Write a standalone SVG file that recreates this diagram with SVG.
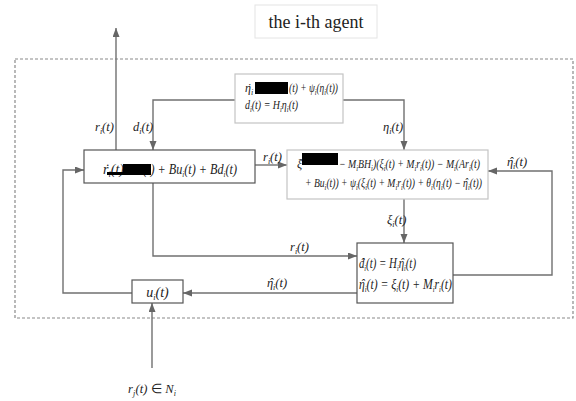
<svg xmlns="http://www.w3.org/2000/svg" width="576" height="401" viewBox="0 0 576 401">
  <style>
    .m{font-family:"Liberation Serif","Times New Roman",serif;font-style:italic;font-size:12.5px;fill:#222}
    .b{font-size:14px}
    .sm{font-size:12px}
    .s{font-size:8px;baseline-shift:-3px}
    .u{font-style:normal}
    .box{fill:#fff;stroke:#555;stroke-width:1.2}
    .lbox{fill:#fff;stroke:#c4c4c4;stroke-width:1.2}
    .ln{fill:none;stroke:#707070;stroke-width:1.4}
    .frame{fill:none;stroke:#8a8a8a;stroke-width:1.2;stroke-dasharray:3 2}
    .redact{fill:#000}
  </style>
  <defs>
    <marker id="ah" markerUnits="userSpaceOnUse" markerWidth="10" markerHeight="8" refX="9" refY="3.5" orient="auto">
      <path d="M0,0 L9,3.5 L0,7 z" fill="#666"/>
    </marker>
  </defs>
  <rect width="576" height="401" fill="#fff"/>

  <!-- title -->
  <g id="title">
    <rect x="255" y="5" width="122" height="33" fill="#fff" stroke="#e4e4e4"/>
    <text x="316" y="28" text-anchor="middle" font-family="Liberation Serif, serif" font-size="18" fill="#222">the i-th agent</text>
  </g>

  <!-- agent boundary -->
  <rect class="frame" x="15" y="59" width="558" height="259"/>

  <!-- connectors -->
  <g id="connectors" class="ln" marker-end="url(#ah)">
    <path d="M116,150 V28"/>
    <path d="M235,100 H153 V150"/>
    <path d="M343,100 H404 V150"/>
    <path d="M255,165 H287"/>
    <path d="M404,199 V243"/>
    <path d="M153,183 V256 H357"/>
    <path d="M453,275 H552 V171 H488"/>
    <path d="M357,293 H183"/>
    <path d="M132,293 H63 V170 H84"/>
    <path d="M152,368 V303"/>
  </g>

  <!-- connector labels -->
  <g id="labels" class="m">
    <text x="95" y="131">r<tspan class="s">i</tspan>(t)</text>
    <text x="133" y="131">d<tspan class="s">i</tspan>(t)</text>
    <text x="383" y="131">η<tspan class="s">i</tspan>(t)</text>
    <text x="263" y="161">r<tspan class="s">i</tspan>(t)</text>
    <text x="507" y="166">η<tspan dx="-4.3">ˆ</tspan><tspan class="s">i</tspan>(t)</text>
    <text x="387" y="224">ξ<tspan class="s">i</tspan>(t)</text>
    <text x="290" y="251">r<tspan class="s">i</tspan>(t)</text>
    <text x="267" y="287">η<tspan dx="-4.3">ˆ</tspan><tspan class="s">i</tspan>(t)</text>
    <text x="128" y="393" textLength="48" lengthAdjust="spacing">r<tspan class="s">j</tspan>(t) <tspan class="u">∈</tspan> N<tspan class="s">i</tspan></text>
  </g>

  <!-- exosystem -->
  <g id="exo">
    <rect class="lbox" x="235" y="74" width="108" height="49"/>
    <text class="m sm" x="245" y="92">η<tspan dx="-4">˙</tspan><tspan class="s">i</tspan></text>
    <text class="m sm" x="289" y="92" textLength="49" lengthAdjust="spacingAndGlyphs">(t) + ψ<tspan class="s">i</tspan>(η<tspan class="s">i</tspan>(t))</text>
    <text class="m sm" x="245" y="109" textLength="53" lengthAdjust="spacingAndGlyphs">d<tspan class="s">i</tspan>(t) = H<tspan class="s">i</tspan>η<tspan class="s">i</tspan>(t)</text>
    <rect class="redact" x="255" y="82" width="33" height="12"/>
  </g>

  <!-- agent dynamics -->
  <g id="plant">
    <rect class="box" x="84" y="150" width="171" height="33"/>
    <text class="m b" x="103" y="174">r<tspan dx="-4">˙</tspan><tspan class="s" dx="-0.6">i</tspan>(t)</text>
    <text class="m b" x="143" y="174" textLength="94" lengthAdjust="spacingAndGlyphs">(t) + Bu<tspan class="s">i</tspan>(t) + Bd<tspan class="s">i</tspan>(t)</text>
    <rect class="redact" x="123" y="164" width="28" height="11"/>
    <rect class="redact" x="107" y="172" width="16" height="3"/>
  </g>

  <!-- observer -->
  <g id="observer">
    <rect class="lbox" x="287" y="150" width="201" height="49"/>
    <text class="m sm" x="297" y="168">ξ<tspan dx="-3.6">˙</tspan></text>
    <text class="m sm" x="339" y="168" textLength="141" lengthAdjust="spacingAndGlyphs">− M<tspan class="s">i</tspan>BH<tspan class="s">i</tspan>)(ξ<tspan class="s">i</tspan>(t) + M<tspan class="s">i</tspan>r<tspan class="s">i</tspan>(t)) − M<tspan class="s">i</tspan>(Ar<tspan class="s">i</tspan>(t)</text>
    <text class="m sm" x="305" y="187" textLength="177" lengthAdjust="spacingAndGlyphs">+ Bu<tspan class="s">i</tspan>(t)) + ψ<tspan class="s">i</tspan>(ξ<tspan class="s">i</tspan>(t) + M<tspan class="s">i</tspan>r<tspan class="s">i</tspan>(t)) + θ<tspan class="s">i</tspan>(η<tspan class="s">i</tspan>(t) − η<tspan dx="-4">ˆ</tspan><tspan class="s">i</tspan>(t))</text>
    <rect class="redact" x="302" y="153" width="36" height="12"/>
  </g>

  <!-- estimator -->
  <g id="estimator">
    <rect class="box" x="357" y="243" width="96" height="60"/>
    <text class="m b" x="359" y="268" textLength="57" lengthAdjust="spacingAndGlyphs">d<tspan dx="-4.8">ˆ</tspan><tspan class="s">i</tspan>(t) = H<tspan class="s">i</tspan>η<tspan dx="-4.8">ˆ</tspan><tspan class="s">i</tspan>(t)</text>
    <text class="m b" x="359" y="289" textLength="93" lengthAdjust="spacingAndGlyphs">η<tspan dx="-4.8">ˆ</tspan><tspan class="s">i</tspan>(t) = ξ<tspan class="s">i</tspan>(t) + M<tspan class="s">i</tspan>r<tspan class="s">i</tspan>(t)</text>
  </g>

  <!-- controller -->
  <g id="controller">
    <rect class="box" x="132" y="280" width="51" height="23"/>
    <text class="m b" x="157.5" y="297" text-anchor="middle">u<tspan class="s">i</tspan>(t)</text>
  </g>
</svg>
